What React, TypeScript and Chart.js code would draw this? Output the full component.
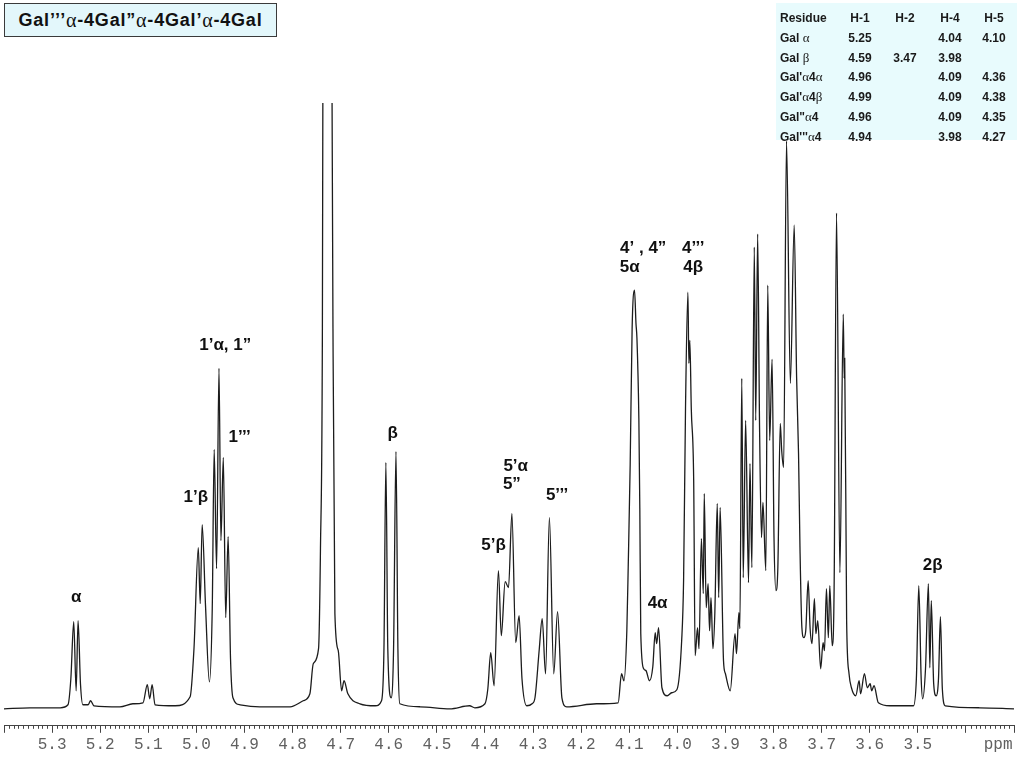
import React, { useEffect, useRef } from "react";
import { Chart, registerables } from "chart.js";

Chart.register(...registerables);

// ---- spectrum as [ppm, intensity] vertices ----
const regionAnomericAlpha: [number, number][] = [
  [5.4, 0], [5.346, 1], [5.283, 1], [5.267, 4], [5.261, 30], [5.255, 87], [5.25, 18],
  [5.246, 88], [5.241, 25], [5.236, 4], [5.225, 4], [5.22, 8], [5.213, 3], [5.159, 2],
  [5.132, 5], [5.111, 6], [5.102, 24], [5.097, 10], [5.092, 24], [5.086, 4], [5.044, 3],
];
const regionH1: [number, number][] = [
  [5.013, 12], [5.005, 60], [4.996, 161], [4.992, 105], [4.988, 184], [4.981, 103],
  [4.973, 27], [4.967, 100], [4.963, 259], [4.958, 140], [4.953, 340], [4.949, 168],
  [4.944, 251], [4.939, 91], [4.934, 172], [4.929, 50], [4.924, 11], [4.909, 4],
  [4.868, 2], [4.805, 2],
];
const regionHdo: [number, number][] = [
  [4.778, 8], [4.764, 15], [4.757, 45], [4.746, 60], [4.742, 160], [4.738, 380],
  [4.737, 620], [4.727, 1400], [4.718, 620], [4.716, 380], [4.712, 95], [4.705, 58],
  [4.698, 18], [4.693, 28], [4.685, 15], [4.66, 5], [4.628, 3],
];
const regionBeta: [number, number][] = [
  [4.615, 8], [4.61, 60], [4.606, 246], [4.602, 60], [4.595, 11], [4.59, 60],
  [4.585, 257], [4.581, 60], [4.577, 5], [4.535, 2], [4.473, 0], [4.432, 3], [4.421, 1],
];
const regionH5: [number, number][] = [
  [4.4, 5], [4.394, 20], [4.388, 56], [4.381, 23], [4.372, 138], [4.366, 73],
  [4.358, 127], [4.351, 121], [4.344, 195], [4.336, 66], [4.329, 93], [4.323, 30],
  [4.313, 3], [4.302, 5], [4.296, 11], [4.287, 60], [4.281, 90], [4.274, 35],
  [4.266, 191], [4.257, 35], [4.249, 97], [4.24, 11], [4.23, 2], [4.168, 5], [4.123, 6],
];
const regionH4: [number, number][] = [
  [4.116, 35], [4.111, 28], [4.105, 78], [4.102, 145], [4.098, 245], [4.094, 380],
  [4.089, 418], [4.086, 385], [4.084, 370], [4.08, 290], [4.078, 200], [4.076, 75], [4.07, 40],
  [4.065, 38], [4.058, 28], [4.051, 42], [4.046, 76], [4.043, 65], [4.039, 81],
  [4.032, 21], [4.021, 13], [4.012, 16], [4.001, 19], [3.991, 68], [3.987, 128],
  [3.983, 300], [3.978, 416], [3.976, 345], [3.974, 368], [3.971, 300], [3.966, 228],
  [3.963, 53],
];
const regionRing: [number, number][] = [
  [3.958, 81], [3.955, 60], [3.95, 170], [3.946, 115], [3.944, 215], [3.94, 101],
  [3.936, 125], [3.933, 78], [3.93, 111], [3.926, 60], [3.922, 96], [3.917, 205],
  [3.914, 111], [3.911, 201], [3.904, 48], [3.9, 35], [3.89, 18], [3.88, 75],
  [3.877, 55], [3.872, 96], [3.87, 80], [3.866, 330], [3.863, 131], [3.858, 288],
  [3.852, 126], [3.849, 245], [3.845, 141], [3.84, 461], [3.837, 288], [3.833, 474],
  [3.829, 280], [3.825, 171], [3.822, 206], [3.816, 138], [3.812, 423], [3.808, 268],
  [3.803, 349], [3.799, 171], [3.795, 118], [3.791, 141], [3.786, 285], [3.783, 258],
  [3.779, 241], [3.773, 567], [3.765, 325], [3.757, 483], [3.752, 331], [3.748, 255],
  [3.745, 161], [3.741, 81],
];
const regionH6: [number, number][] = [
  [3.737, 71], [3.733, 78], [3.728, 128], [3.724, 81], [3.72, 65], [3.715, 110],
  [3.712, 75], [3.708, 88], [3.702, 40], [3.697, 66], [3.694, 58], [3.69, 120],
  [3.686, 71], [3.683, 123], [3.678, 63], [3.674, 121], [3.669, 495], [3.662, 136],
  [3.655, 394], [3.653, 330], [3.652, 350], [3.648, 88], [3.643, 35], [3.638, 21],
  [3.629, 13], [3.622, 28], [3.619, 15], [3.611, 35], [3.605, 21], [3.599, 25],
  [3.596, 18], [3.591, 23], [3.582, 6], [3.558, 3],
];
const regionH2Beta: [number, number][] = [
  [3.509, 3], [3.503, 30], [3.498, 123], [3.493, 30], [3.49, 10], [3.484, 40],
  [3.478, 125], [3.475, 41], [3.472, 108], [3.467, 25], [3.462, 13], [3.457, 30],
  [3.453, 92], [3.449, 20], [3.443, 3], [3.371, 1], [3.3, 0],
];

// ---- axis ----
const ppmMin = 3.3;
const ppmMax = 5.4;
const majorStep = 0.1;
const minorStep = 0.01;
const labelledMin = 3.5;
const labelledMax = 5.3;
const unitLabel = "ppm";
const unitLabelAt = 3.333;
const intensityMin = -17;
const intensityMax = 605;

// ---- peak assignments ----
const peakTexts = ["α", "1’β", "1’α, 1”", "1’’’", "β", "5’β", "5’α", "5”", "5’’’", "4’ , 4”", "5α", "4’’’", "4β", "4α", "2β"];
const peakPpm = [5.25, 5.001, 4.94, 4.91, 4.592, 4.382, 4.336, 4.344, 4.25, 4.071, 4.099, 3.967, 3.967, 4.041, 3.469];
const peakHeight = [111, 211, 363, 271, 275, 163, 242, 224, 213, 460, 441, 460, 441, 105, 143];

// ---- title and shift table ----
const titleText = "Gal’’’α-4Gal”α-4Gal’α-4Gal";
const tableHeader = ["Residue", "H-1", "H-2", "H-4", "H-5"];
const residues = ["Gal α", "Gal β", "Gal'α4α", "Gal'α4β", "Gal\"α4", "Gal'''α4"];
const shiftH1 = ["5.25", "4.59", "4.96", "4.99", "4.96", "4.94"];
const shiftH2 = ["", "3.47", "", "", "", ""];
const shiftH4 = ["4.04", "3.98", "4.09", "4.09", "4.09", "3.98"];
const shiftH5 = ["4.10", "", "4.36", "4.38", "4.35", "4.27"];

const spectrum = [
  ...regionAnomericAlpha, ...regionH1, ...regionHdo, ...regionBeta, ...regionH5,
  ...regionH4, ...regionRing, ...regionH6, ...regionH2Beta,
].map(([x, y]) => ({ x, y }));

const labelFont = "bold 17px 'Liberation Sans', Arial, sans-serif";
const tickFont = "'Liberation Mono', 'Courier New', monospace";

function withGreek(s: string, greekStyle: React.CSSProperties) {
  return s.split(/([αβ])/).map((part, i) =>
    /[αβ]/.test(part) ? <span key={i} style={greekStyle}>{part}</span> : <React.Fragment key={i}>{part}</React.Fragment>
  );
}

export default function App() {
  const ref = useRef<HTMLCanvasElement>(null);

  useEffect(() => {
    if (!ref.current) return;

    const axisExtras = {
      id: "axisExtras",
      afterDraw(chart: any) {
        const xs = chart.scales.x;
        const ctx = chart.ctx;
        const top = xs.top;
        ctx.save();
        ctx.strokeStyle = "#444";
        ctx.lineWidth = 1;
        const n = Math.round((ppmMax - ppmMin) / minorStep);
        ctx.beginPath();
        for (let i = 0; i <= n; i++) {
          if (i % 10 === 0) continue;
          const px = Math.round(xs.getPixelForValue(ppmMin + i * minorStep)) + 0.5;
          ctx.moveTo(px, top);
          ctx.lineTo(px, top + 3);
        }
        ctx.stroke();
        ctx.fillStyle = "#606060";
        ctx.font = `16px ${tickFont}`;
        ctx.textAlign = "center";
        ctx.textBaseline = "middle";
        ctx.fillText(unitLabel, xs.getPixelForValue(unitLabelAt), top + 19);
        ctx.restore();
      },
    };

    const peakLabels = {
      id: "peakLabels",
      afterDatasetsDraw(chart: any) {
        const xs = chart.scales.x;
        const ys = chart.scales.y;
        const ctx = chart.ctx;
        ctx.save();
        ctx.font = labelFont;
        ctx.fillStyle = "#111";
        ctx.textAlign = "center";
        ctx.textBaseline = "middle";
        peakTexts.forEach((t, i) => {
          ctx.fillText(t, xs.getPixelForValue(peakPpm[i]), ys.getPixelForValue(peakHeight[i]));
        });
        ctx.restore();
      },
    };

    const chart = new Chart(ref.current, {
      type: "line",
      data: {
        datasets: [
          {
            data: spectrum,
            borderColor: "#1c1c1c",
            borderWidth: 1.3,
            pointRadius: 0,
            fill: false,
            cubicInterpolationMode: "monotone",
          } as any,
        ],
      },
      options: {
        animation: false,
        responsive: true,
        maintainAspectRatio: false,
        events: [],
        layout: { padding: { left: 4, right: 10, top: 103, bottom: 12 } },
        plugins: {
          legend: { display: false },
          tooltip: { enabled: false },
          title: { display: false },
        },
        scales: {
          x: {
            type: "linear",
            reverse: true,
            min: ppmMin,
            max: ppmMax,
            border: { display: true, color: "#444", width: 1 },
            grid: { display: true, drawOnChartArea: false, drawTicks: true, tickLength: 7, color: "#444", lineWidth: 1 },
            ticks: {
              stepSize: majorStep,
              autoSkip: false,
              maxRotation: 0,
              minRotation: 0,
              padding: 2,
              color: "#606060",
              font: { family: tickFont, size: 16 },
              callback: (v: any) => {
                const n = Math.round(Number(v) * 10) / 10;
                return n >= labelledMin - 0.001 && n <= labelledMax + 0.001 ? n.toFixed(1) : "";
              },
            },
          },
          y: { display: false, min: intensityMin, max: intensityMax },
        },
      },
      plugins: [axisExtras, peakLabels],
    });
    return () => chart.destroy();
  }, []);

  const colCenters = [0, 84, 129, 174, 218];
  const rowY = (r: number) => 12 + r * 19.8;
  const cellBase: React.CSSProperties = {
    position: "absolute",
    height: 16,
    lineHeight: "16px",
    whiteSpace: "nowrap",
  };
  const greekTable: React.CSSProperties = { fontWeight: "normal", fontFamily: "'Liberation Serif', serif", fontSize: 13 };
  const greekTitle: React.CSSProperties = { fontWeight: "normal", fontFamily: "'Liberation Serif', serif", fontSize: 20 };

  const rows = residues.map((name, r) => [name, shiftH1[r], shiftH2[r], shiftH4[r], shiftH5[r]]);

  return (
    <div style={{ position: "fixed", left: 0, top: 0, width: 1024, height: 768, background: "#fff", overflow: "hidden" }}>
      <canvas ref={ref} style={{ position: "absolute", left: 0, top: 0, width: 1024, height: 768 }} />
      <div
        style={{
          position: "absolute", left: 4, top: 3, width: 273, height: 34, boxSizing: "border-box",
          border: "1.5px solid #3a3a3a", background: "#e3f7fb", color: "#111",
          font: "bold 18px 'Liberation Sans', Arial, sans-serif", letterSpacing: "0.8px",
          display: "flex", alignItems: "center", justifyContent: "center",
        }}
      >
        {withGreek(titleText, greekTitle)}
      </div>
      <div
        style={{
          position: "absolute", left: 776, top: 3, width: 241, height: 137, background: "#e8fbfd",
          font: "bold 12px 'Liberation Sans', Arial, sans-serif", color: "#1a1a1a",
        }}
      >
        {[tableHeader, ...rows].map((cells, r) =>
          cells.map((c, ci) => (
            <div
              key={`${r}-${ci}`}
              style={
                ci === 0
                  ? { ...cellBase, left: 4, top: rowY(r) - 8 + 3 }
                  : { ...cellBase, left: colCenters[ci] - 30, width: 60, textAlign: "center", top: rowY(r) - 8 + 3 }
              }
            >
              {withGreek(c, greekTable)}
            </div>
          ))
        )}
      </div>
    </div>
  );
}
